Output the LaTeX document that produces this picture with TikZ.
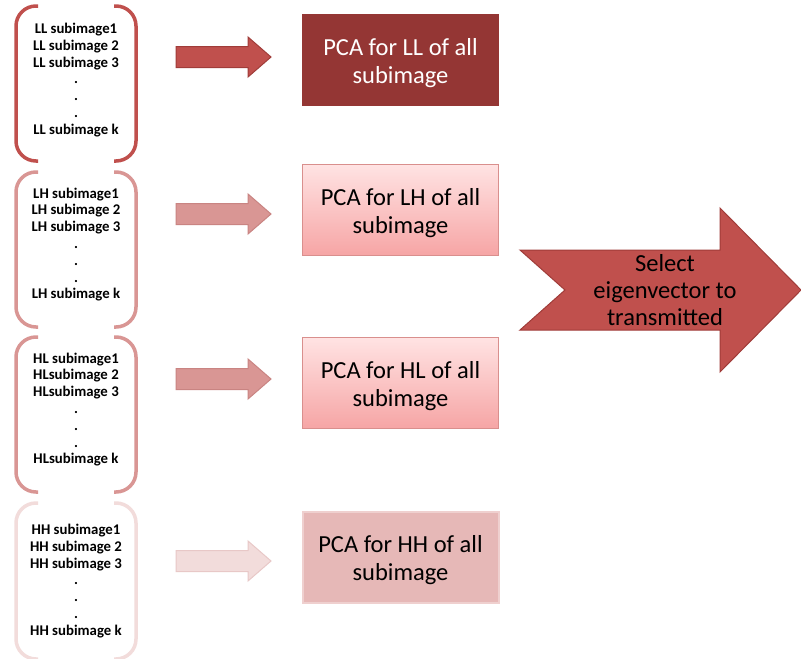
\documentclass[tikz,border=0pt]{standalone}
\usepackage{fontspec}
\setmainfont{Carlito}
\usetikzlibrary{calc}
\definecolor{redA}{HTML}{C0504D}
\definecolor{redAline}{HTML}{A03C39}
\definecolor{redDark}{HTML}{943634}
\definecolor{pinkB}{HTML}{D99694}
\definecolor{pinkBline}{HTML}{C98482}
\definecolor{pinkC}{HTML}{F2DCDB}
\definecolor{pinkCline}{HTML}{E8C8C7}
\definecolor{boxTop}{HTML}{FFE3E3}
\definecolor{boxBot}{HTML}{F6A5A5}
\definecolor{boxLine}{HTML}{D98F8D}
\definecolor{boxHH}{HTML}{E6B8B7}
\definecolor{boxHHline}{HTML}{EFD0CF}
\tikzset{
  listtext/.style={font=\fontsize{14.8}{16.8}\selectfont\bfseries, align=center, text=black},
  pcabox/.style={minimum width=196pt, minimum height=91pt, line width=1pt, inner sep=0pt},
  pcatext/.style={align=center, font=\fontsize{24.5}{28}\selectfont, inner sep=0pt},
  bracket/.style={line width=3.5pt, rounded corners=20pt},
}
% Round bracket pair spanning the vertical range #1..#2 in colour #3
\newcommand\brackpair[3]{%
  \draw[bracket,#3] (38,#1) -- (16,#1) -- (16,#2) -- (38,#2);
  \draw[bracket,#3] (114,#1) -- (136,#1) -- (136,#2) -- (114,#2);
}
% Block arrow centred vertically on #1, filled #2, outlined #3
\newcommand\blockarrow[4]{%
  \filldraw[fill=#2, draw=#3, line width=1pt]
    (176,#1-10.5) -- (248,#1-10.5) -- (248,#1-20) -- (271,#1)
    -- (248,#1+20) -- (248,#1+10.5) -- (176,#1+10.5) -- cycle;
  \coordinate (#4) at (271,#1);
}
\begin{document}
\begin{tikzpicture}[x=1pt,y=-1pt]
\useasboundingbox (0,0) rectangle (801,659);
\fill[white] (0,0) rectangle (801,659);

% sub-band lists in brackets
\brackpair{6}{161}{redA}
\node[listtext] (ll) at (76,80) {LL subimage1\\LL subimage 2\\LL subimage 3\\.\\.\\.\\LL subimage k};
\brackpair{172}{327}{pinkB}
\node[listtext] (lh) at (76,244.5) {LH subimage1\\LH subimage 2\\LH subimage 3\\.\\.\\.\\LH subimage k};
\brackpair{337}{492}{pinkB}
\node[listtext] (hl) at (76,409.5) {HL subimage1\\HLsubimage 2\\HLsubimage 3\\.\\.\\.\\HLsubimage k};
\brackpair{503}{659}{pinkC}
\node[listtext] (hh) at (76,581) {HH subimage1\\HH subimage 2\\HH subimage 3\\.\\.\\.\\HH subimage k};

% block arrows
\blockarrow{57}{redA}{redAline}{a1}
\blockarrow{214}{pinkB}{pinkBline}{a2}
\blockarrow{379}{pinkB}{pinkBline}{a3}
\blockarrow{561}{pinkC}{pinkCline}{a4}

% PCA boxes and their captions
\node[pcabox, fill=redDark, draw=redDark] (pll) at (400.5,60) {};
\node[pcatext, text=white] (tll) at ($(pll.center)+(0,3)$) {PCA for LL of all\\subimage};
\node[pcabox, top color=boxTop, bottom color=boxBot, draw=boxLine] (plh) at (400.5,210) {};
\node[pcatext] (tlh) at ($(plh.center)+(0,3.5)$) {PCA for LH of all\\subimage};
\node[pcabox, top color=boxTop, bottom color=boxBot, draw=boxLine] (phl) at (400.5,383) {};
\node[pcatext] (thl) at ($(phl.center)+(0,3.5)$) {PCA for HL of all\\subimage};
\node[pcabox, fill=boxHH, draw=boxHHline, line width=2pt] (phh) at (400.5,557) {};
\node[pcatext] (thh) at ($(phh.center)+(0,3)$) {PCA for HH of all\\subimage};

% notched selection arrow
\filldraw[fill=redA, draw=redAline, line width=1pt]
  (520,250) -- (720,250) -- (720,208) -- (801,290) -- (720,372)
  -- (720,330) -- (520,330) -- (565,290) -- cycle;
\node[align=center, font=\fontsize{24.5}{27}\selectfont, text=black] (sel) at (665,290)
  {Select\\eigenvector to\\transmitted};
\end{tikzpicture}
\end{document}
